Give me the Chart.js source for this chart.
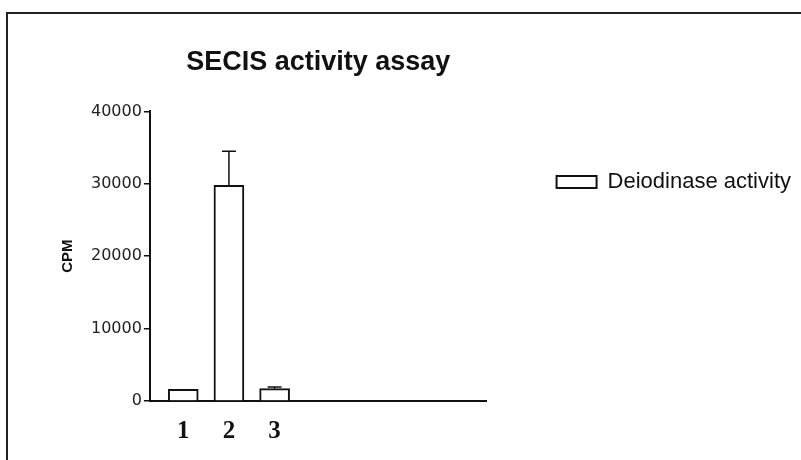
<!DOCTYPE html>
<html>
<head>
<meta charset="utf-8">
<script src="https://cdn.jsdelivr.net/npm/chart.js@4.4.1/dist/chart.umd.min.js"></script>
<style>
  html, body { margin: 0; padding: 0; background: #fff; }
  #wrap { position: relative; width: 801px; height: 460px; overflow: hidden; }
  #frame { position: absolute; left: 6px; top: 12px; width: 820px; height: 480px;
           border-top: 2px solid #222; border-left: 2px solid #222; }
  #chart { position: absolute; left: 0; top: 0; }
</style>
</head>
<body>
<div id="wrap">
  <div id="frame"></div>
  <canvas id="chart" width="801" height="460"></canvas>
</div>
<script>
// values
const categories = ['1', '2', '3'];
const values = [1600, 29800, 1700];
const errors = [0, 4700, 250];
const yTicks = [0, 10000, 20000, 30000, 40000];
const seriesName = 'Deiodinase activity';

const ink = '#111';

// simple up-only error bars, positioned with the chart's own scales
const errorBars = {
  id: 'errorBars',
  afterDatasetsDraw(chart) {
    const { ctx } = chart;
    const y = chart.scales.y;
    const meta = chart.getDatasetMeta(0);
    ctx.save();
    ctx.strokeStyle = ink;
    ctx.lineWidth = 1.5;
    meta.data.forEach((bar, i) => {
      if (!errors[i]) return;
      const top = y.getPixelForValue(values[i] + errors[i]);
      ctx.beginPath();
      ctx.moveTo(bar.x, bar.y);
      ctx.lineTo(bar.x, top);
      ctx.moveTo(bar.x - 7, top);
      ctx.lineTo(bar.x + 7, top);
      ctx.stroke();
    });
    ctx.restore();
  }
};

new Chart(document.getElementById('chart'), {
  type: 'bar',
  data: {
    datasets: [{
      label: seriesName,
      data: values.map((v, i) => ({ x: i + 1, y: v })),
      backgroundColor: '#fff',
      borderColor: ink,
      borderWidth: 2,
      borderSkipped: 'start',
      barThickness: 30
    }]
  },
  options: {
    responsive: false,
    animation: false,
    layout: { padding: { left: 56, top: 20, right: 0, bottom: 5 } },
    plugins: {
      title: {
        display: true,
        text: 'SECIS activity assay',
        fullSize: false,
        color: ink,
        font: { family: 'Liberation Sans, Arial, sans-serif', size: 27, weight: 'bold', lineHeight: 1.2 },
        padding: { top: 26, bottom: 33 }
      },
      legend: {
        position: 'right',
        align: 'start',
        fullSize: true,
        maxWidth: 400,
        // empty title only pushes the single entry down to its place
        title: { display: true, text: '', font: { size: 1, lineHeight: 1 }, padding: { top: 80, bottom: 0 } },
        labels: {
          color: ink,
          padding: 70,
          boxWidth: 40,
          boxHeight: 12,
          font: { family: 'Liberation Sans, Arial, sans-serif', size: 22 }
        }
      },
      tooltip: { enabled: false }
    },
    scales: {
      x: {
        type: 'linear',
        min: 0.27,
        max: 7.64,
        offset: false,
        afterBuildTicks: scale => { scale.ticks = categories.map((c, i) => ({ value: i + 1 })); },
        grid: { display: false },
        border: { display: true, color: ink, width: 2 },
        ticks: {
          color: ink,
          padding: 8,
          callback: v => categories[v - 1],
          font: { family: 'Liberation Serif, Times New Roman, serif', size: 25, weight: 'bold', lineHeight: 1.2 }
        }
      },
      y: {
        min: 0,
        max: 40000,
        afterBuildTicks: scale => { scale.ticks = yTicks.map(v => ({ value: v })); },
        grid: { drawOnChartArea: false, drawTicks: true, tickLength: 6, color: ink, lineWidth: 1.5 },
        border: { display: true, color: ink, width: 2 },
        ticks: {
          color: '#222',
          padding: 2,
          callback: v => String(v),
          font: { family: 'DejaVu Sans, sans-serif', size: 16 }
        },
        title: {
          display: true,
          text: 'CPM',
          color: ink,
          font: { family: 'Liberation Sans, Arial, sans-serif', size: 15, weight: 'bold', lineHeight: 1.2 },
          padding: { top: 3, bottom: 12 }
        }
      }
    }
  },
  plugins: [errorBars]
});
</script>
</body>
</html>
